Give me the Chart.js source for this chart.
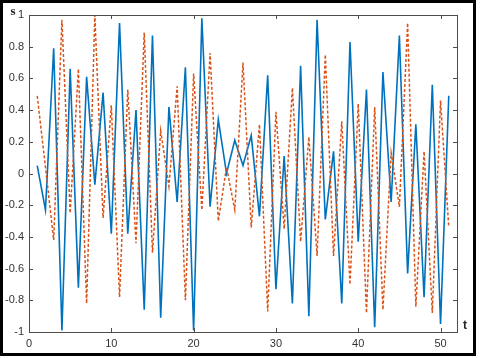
<!DOCTYPE html>
<html>
<head>
<meta charset="utf-8">
<script src="https://cdn.jsdelivr.net/npm/chart.js@4.4.0/dist/chart.umd.min.js"></script>
<style>
  body { margin: 0; background: #fff; }
  #wrap { width: 480px; height: 358px; position: relative; }
</style>
</head>
<body>
<div id="wrap"><canvas id="chart"></canvas></div>
<script>
// sample times
const tValues = [];
for (let i = 1; i <= 51; i++) tValues.push(i);

// solid blue signal
const blueValues = [0.05, -0.23, 0.79, -0.99, 0.66, -0.72, 0.61, -0.07, 0.51, -0.38,
    0.95, -0.38, 0.40, -0.86, 0.87, -0.91, 0.42, -0.18, 0.67, -0.99,
    0.98, -0.21, 0.34, 0.00, 0.21, 0.05, 0.24, -0.27, 0.62, -0.73,
    0.11, -0.82, 0.68, -0.90, 0.97, -0.29, 0.14, -0.82, 0.83, -0.43,
    0.53, -0.97, 0.64, -0.18, 0.87, -0.63, 0.31, -0.78, 0.56, -0.95, 0.49];

// dashed orange signal
const orangeValues = [0.49, 0.04, -0.42, 0.97, -0.25, 0.66, -0.82, 1.00, -0.28, 0.43,
    -0.78, 0.53, -0.44, 0.89, -0.50, 0.27, -0.08, 0.55, -0.80, 0.63,
    -0.23, 0.76, -0.30, 0.04, -0.23, 0.70, -0.34, 0.31, -0.87, 0.39,
    -0.35, 0.54, -0.43, 0.23, -0.52, 0.75, -0.52, 0.33, -0.70, 0.44,
    -0.88, 0.42, -0.86, 0.13, -0.21, 0.95, -0.84, 0.14, -0.88, 0.46, -0.34];

// tick labels
const xTicks = [0, 10, 20, 30, 40, 50];
const yTicks = [-1, -0.8, -0.6, -0.4, -0.2, 0, 0.2, 0.4, 0.6, 0.8, 1];

const toPoints = vals => vals.map((v, i) => ({ x: tValues[i], y: v }));

// box around the axes, inward ticks, axis names and outer frame
const boxPlugin = {
    id: 'box',
    afterDraw(chart) {
        const ctx = chart.ctx;
        const a = chart.chartArea;
        const xs = chart.scales.x;
        const ys = chart.scales.y;
        ctx.save();
        ctx.strokeStyle = '#4d4d4d';
        ctx.lineWidth = 1;
        ctx.strokeRect(Math.round(a.left) + 0.5, Math.round(a.top) + 0.5,
            Math.round(a.right - a.left), Math.round(a.bottom - a.top));
        ctx.beginPath();
        xTicks.forEach(v => {
            const px = Math.round(xs.getPixelForValue(v)) + 0.5;
            ctx.moveTo(px, a.bottom); ctx.lineTo(px, a.bottom - 4);
            ctx.moveTo(px, a.top); ctx.lineTo(px, a.top + 4);
        });
        yTicks.forEach(v => {
            const py = Math.round(ys.getPixelForValue(v)) + 0.5;
            ctx.moveTo(a.left, py); ctx.lineTo(a.left + 4, py);
            ctx.moveTo(a.right, py); ctx.lineTo(a.right - 4, py);
        });
        ctx.stroke();

        // axis names
        ctx.fillStyle = '#222';
        ctx.font = 'bold 13px "Liberation Serif"';
        ctx.textAlign = 'center';
        ctx.textBaseline = 'middle';
        ctx.fillText('s', a.left - 16, a.top - 3);
        ctx.font = 'bold 12px "Liberation Sans"';
        ctx.fillText('t', a.right + 8, a.bottom - 6);

        // outer frame
        ctx.strokeStyle = '#000';
        ctx.lineWidth = 3;
        ctx.strokeRect(1.5, 1.5, 473, 353);
        ctx.restore();
    }
};

new Chart(document.getElementById('chart'), {
    type: 'line',
    data: {
        datasets: [
            {
                label: 's1',
                data: toPoints(blueValues),
                borderColor: '#0072BD',
                borderWidth: 1.6,
                pointRadius: 0,
                tension: 0,
                order: 1
            },
            {
                label: 's2',
                data: toPoints(orangeValues),
                borderColor: '#D95319',
                borderWidth: 1.5,
                borderDash: [3, 2],
                pointRadius: 0,
                tension: 0,
                order: 0
            }
        ]
    },
    options: {
        responsive: true,
        maintainAspectRatio: false,
        animation: false,
        layout: { padding: { left: 0, top: 15, right: 23, bottom: 0 } },
        plugins: { legend: { display: false }, tooltip: { enabled: false } },
        scales: {
            x: {
                type: 'linear',
                min: 0,
                max: 52,
                afterBuildTicks: s => { s.ticks = xTicks.map(v => ({ value: v })); },
                afterFit: s => { s.height = 26; },
                grid: { display: false, drawTicks: false },
                border: { display: false },
                ticks: {
                    padding: 5,
                    color: '#333',
                    font: { family: '"Liberation Sans"', size: 11 },
                    maxRotation: 0
                }
            },
            y: {
                type: 'linear',
                min: -1,
                max: 1,
                afterBuildTicks: s => { s.ticks = yTicks.map(v => ({ value: v })); },
                afterFit: s => { s.width = 29; },
                grid: { display: false, drawTicks: false },
                border: { display: false },
                ticks: {
                    padding: 5,
                    color: '#333',
                    font: { family: '"Liberation Sans"', size: 11 },
                    callback: v => String(Math.round(v * 10) / 10)
                }
            }
        }
    },
    plugins: [boxPlugin]
});
</script>
</body>
</html>
